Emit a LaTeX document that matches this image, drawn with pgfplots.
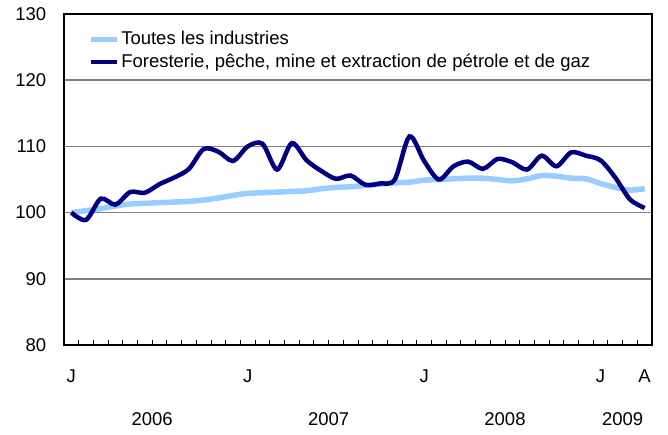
\documentclass[border=0pt]{standalone}
\usepackage{pgfplots}
\pgfplotsset{compat=1.18}
\usepackage{fontspec}
\setmainfont{Liberation Sans}
\definecolor{navyline}{HTML}{000080}
\definecolor{lightline}{HTML}{99CCFF}
\begin{document}
\fontsize{18.5bp}{22bp}\selectfont
\begin{tikzpicture}
\begin{axis}[
 scale only axis, width=588bp, height=331bp,
 xmin=-0.5, xmax=39.5, ymin=80, ymax=130,
 ytick={80,90,...,130},
 ymajorgrids, grid style={draw=black!50, line width=1.6bp},
 xtick={-0.5,0.5,...,39.5}, xticklabels={},
 xtick pos=bottom, ytick pos=left,
 xtick style={draw=black, line width=1bp},
 major tick length=5bp, tick align=inside,
 ytick style={draw=none},
 extra x ticks={0,12,24,36,39}, extra x tick labels={J,J,J,J,A},
 extra x tick style={major tick length=0pt, grid=none, xticklabel style={yshift=-18.5bp}},
 yticklabel style={xshift=-11.5bp},
 axis line style={line width=2bp},
 clip=false,
 legend style={draw=none, fill=none, at={(0.035,0.96)}, anchor=north west, font=\fontsize{18.5bp}{22bp}\selectfont, row sep=2bp},
 legend cell align=left,
 legend image code/.code={\draw[#1] (0bp,0bp) -- (26bp,0bp);},
 /pgf/number format/assume math mode=true,
 tick label style={font=\fontsize{18.5bp}{22bp}\selectfont},
]
\addplot[lightline, line width=5.5bp, smooth, tension=0.5] table {
x y
0 100.0
1 100.3
2 100.6
3 101.0
4 101.3
5 101.4
6 101.5
7 101.6
8 101.7
9 101.9
10 102.2
11 102.6
12 102.9
13 103.0
14 103.1
15 103.2
16 103.3
17 103.6
18 103.8
19 103.9
20 104.1
21 104.3
22 104.5
23 104.6
24 104.9
25 105.0
26 105.1
27 105.2
28 105.2
29 105.0
30 104.8
31 105.1
32 105.6
33 105.5
34 105.2
35 105.1
36 104.4
37 103.8
38 103.4
39 103.6
};
\addlegendentry{Toutes les industries}
\addplot[navyline, line width=4.5bp, smooth, tension=0.5] table {
x y
0 100.0
1 98.9
2 102.1
3 101.2
4 103.1
5 103.0
6 104.3
7 105.3
8 106.6
9 109.6
10 109.2
11 107.8
12 110.0
13 110.4
14 106.5
15 110.5
16 107.9
17 106.3
18 105.1
19 105.6
20 104.2
21 104.4
22 105.0
23 111.5
24 107.8
25 105.0
26 107.0
27 107.7
28 106.6
29 108.1
30 107.6
31 106.5
32 108.6
33 107.0
34 109.1
35 108.6
36 107.9
37 105.3
38 102.0
39 100.7
};
\addlegendentry{Foresterie, pêche, mine et extraction de pétrole et de gaz}
\node[yshift=-74bp] at (axis cs:5.5,80) {2006};
\node[yshift=-74bp] at (axis cs:17.5,80) {2007};
\node[yshift=-74bp] at (axis cs:29.5,80) {2008};
\node[yshift=-74bp] at (axis cs:37.5,80) {2009};
\end{axis}
\pgfresetboundingbox
\path (-64bp,-90bp) rectangle (604bp,345bp);
\end{tikzpicture}
\end{document}
